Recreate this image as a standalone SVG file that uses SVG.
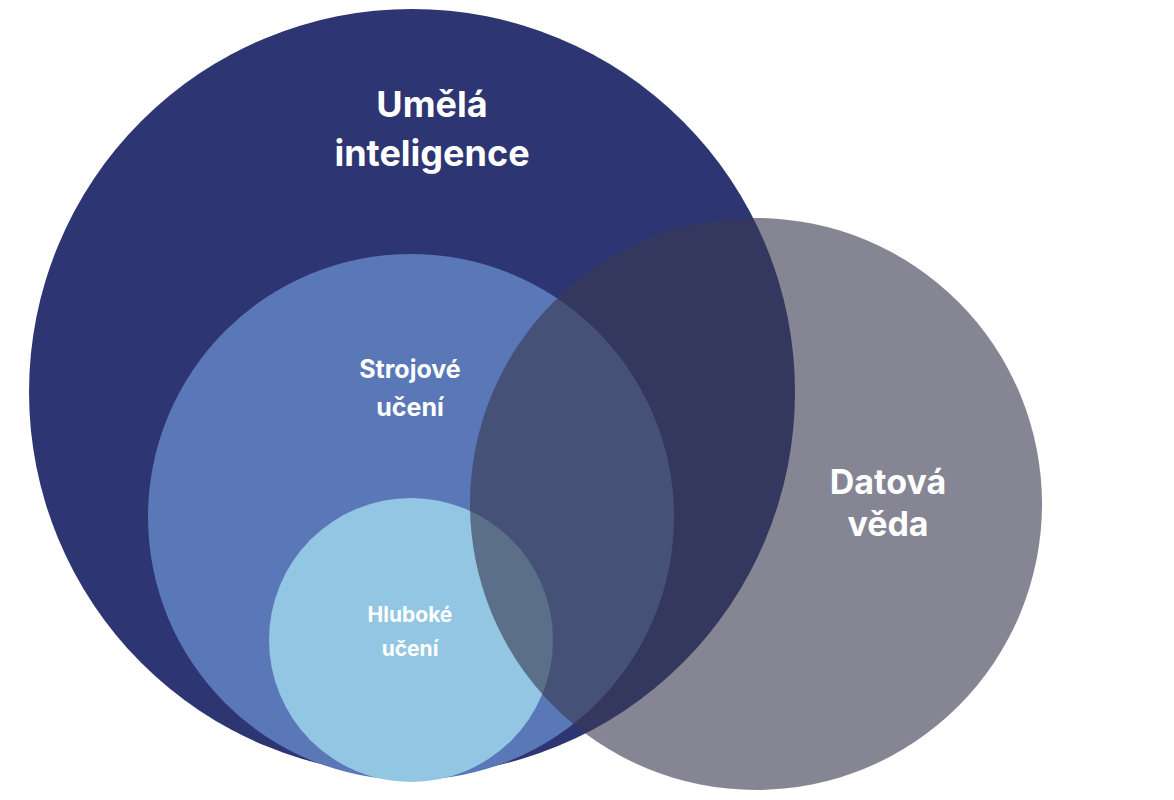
<svg xmlns="http://www.w3.org/2000/svg" width="1174" height="800" viewBox="0 0 1174 800">
<style>
text{font-family:Inter,"Liberation Sans",sans-serif;font-weight:700;fill:#fff;text-anchor:middle}
</style>
<rect width="1174" height="800" fill="#fff"/>
<g id="ai"><circle cx="412" cy="392" r="383" fill="#2e3573"/>
<text x="432" y="117" font-size="36">Umělá</text><text x="432" y="166" font-size="36">inteligence</text></g>
<g id="ml"><circle cx="411" cy="517" r="263" fill="#5a78b8"/>
<text x="410" y="378" font-size="25">Strojové</text><text x="410" y="416" font-size="25">učení</text></g>
<g id="dl"><circle cx="411" cy="640" r="142" fill="#92c6e3"/>
<text x="410" y="622" font-size="21">Hluboké</text><text x="410" y="656" font-size="21">učení</text></g>
<g id="ds"><circle cx="756" cy="504" r="286" fill="#3a3a50" fill-opacity="0.62"/>
<text x="888" y="494" font-size="34">Datová</text><text x="888" y="536" font-size="34">věda</text></g>
<g id="connectors"/>
</svg>
